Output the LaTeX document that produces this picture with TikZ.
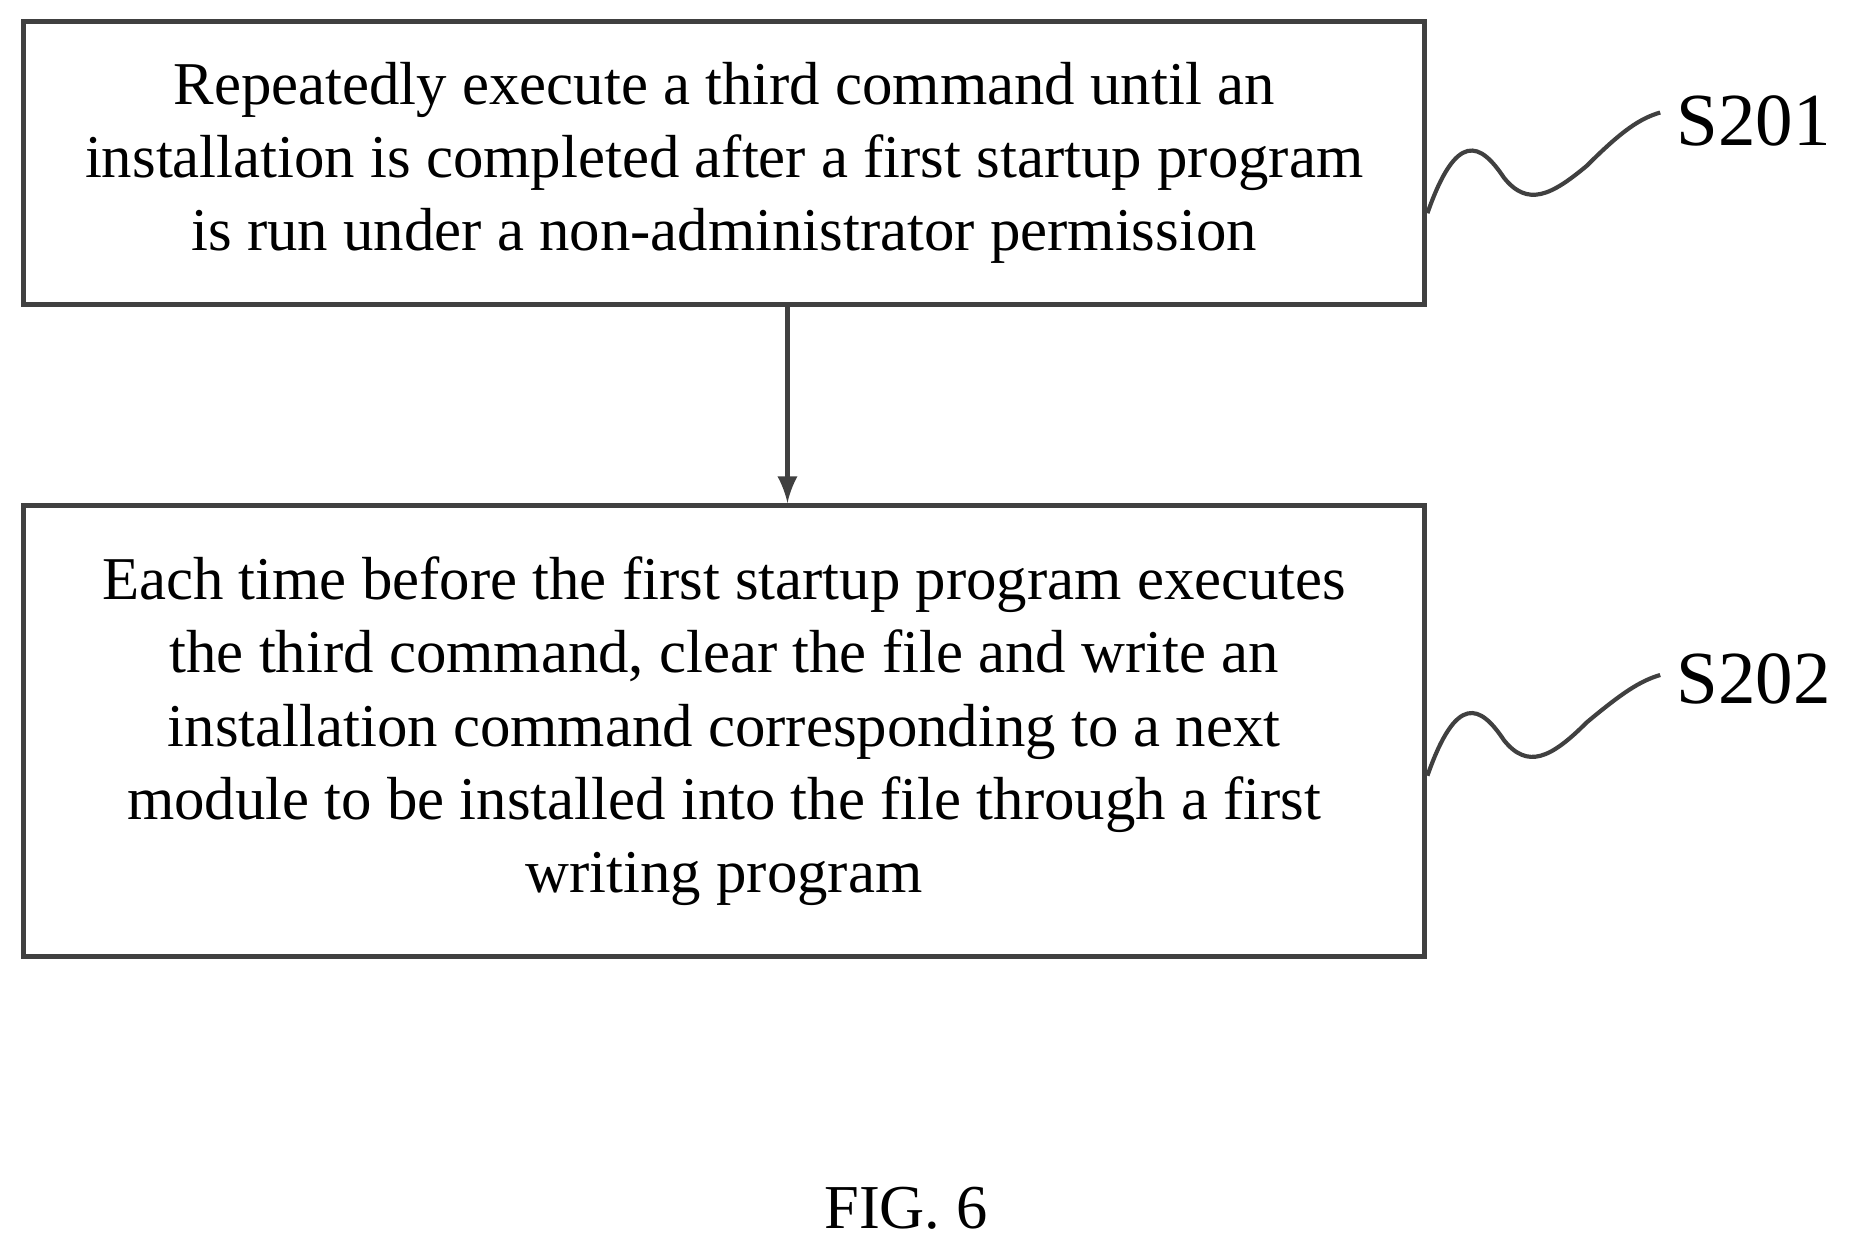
\documentclass[tikz,border=0pt]{standalone}
\usepackage{fontspec}
\setmainfont{Liberation Serif}
\begin{document}
\begin{tikzpicture}[x=0.01cm,y=-0.01cm,
  stepbox/.style={draw=black!75,line width=1.2pt,inner sep=0pt,align=center,
    font=\fontsize{14.6}{17.6}\selectfont},
  lbl/.style={font=\fontsize{18}{21}\selectfont,anchor=west,inner sep=0pt}]
\useasboundingbox (0,0) rectangle (1564,1050);
\node[stepbox,minimum width=11.83cm,minimum height=2.39cm] (b1) at (611.5,137.5)
 {Repeatedly execute a third command until an\\installation is completed after a first startup program\\is run under a non-administrator permission};
\node[stepbox,minimum width=11.83cm,minimum height=3.81cm] (b2) at (611.5,617.5)
 {Each time before the first startup program executes\\the third command, clear the file and write an\\installation command corresponding to a next\\module to be installed into the file through a first\\writing program};
\draw[line width=1.2pt,black!75,-latex] (b1.south -| 665,0) -- (b2.north -| 665,0);
\node[lbl] (s1) at (1415,102) {S201};
\node[lbl] (s2) at (1415,573) {S202};
\coordinate (c1) at (b1.east |- 0,180);
\coordinate (c2) at (b2.east |- 0,655);
\draw[line width=1pt,black!75] (c1) .. controls (1230,110) and (1250,120) .. (1270,150)
  .. controls (1290,175) and (1310,165) .. (1340,140) .. controls (1370,110) and (1385,100) .. (1402,95);
\draw[line width=1pt,black!75] (c2) .. controls (1230,585) and (1250,595) .. (1270,625)
  .. controls (1290,650) and (1310,640) .. (1340,610) .. controls (1370,585) and (1385,575) .. (1402,570);
\node[font=\fontsize{15}{18}\selectfont] (fig) at (765,1020) {FIG. 6};
\end{tikzpicture}
\end{document}
